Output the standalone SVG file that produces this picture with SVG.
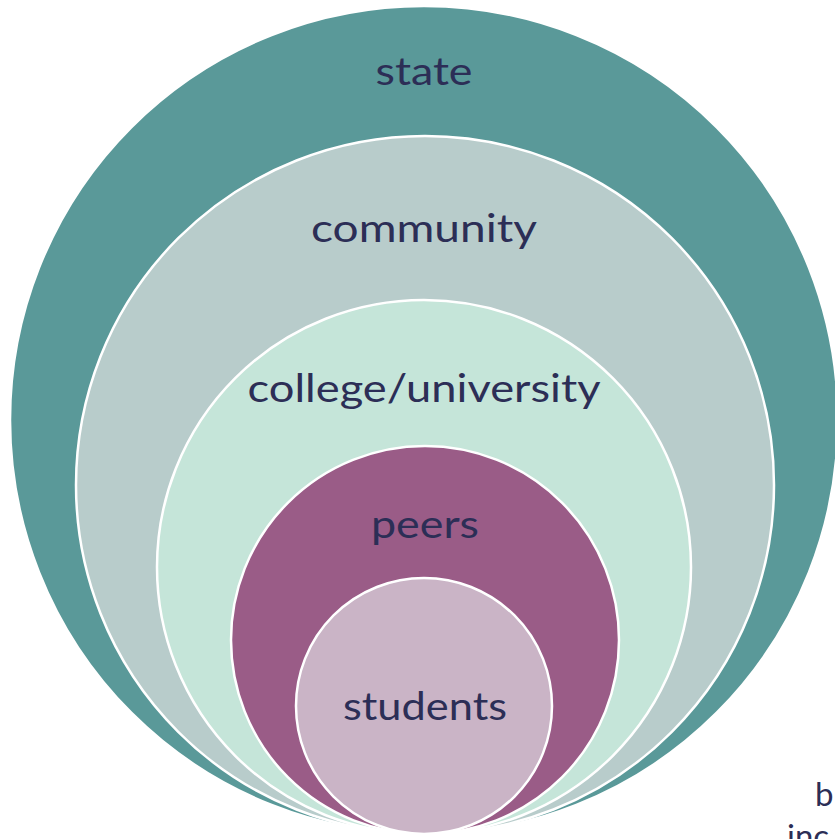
<svg xmlns="http://www.w3.org/2000/svg" width="835" height="839" viewBox="0 0 835 839">
<style>
.ring{stroke:#ffffff;stroke-width:2.5}
.lbl{font-family:"Lato","Open Sans","Liberation Sans",sans-serif;font-size:38px;fill:#2c2e56;text-anchor:middle}
.side{font-family:"Lato","Open Sans","Liberation Sans",sans-serif;font-size:33px;fill:#2c2e56}
</style>
<rect width="835" height="839" fill="#ffffff"/>
<g id="state"><circle class="ring" cx="424" cy="420" r="414" fill="#5a9999"/><text class="lbl" x="424" y="85" textLength="97" lengthAdjust="spacingAndGlyphs">state</text></g>
<g id="community"><circle class="ring" cx="425" cy="485" r="349" fill="#b8cccb"/><text class="lbl" x="424" y="242" textLength="226" lengthAdjust="spacingAndGlyphs">community</text></g>
<g id="college"><circle class="ring" cx="424" cy="567" r="267" fill="#c5e5d9"/><text class="lbl" x="424" y="402" textLength="353" lengthAdjust="spacingAndGlyphs">college/university</text></g>
<g id="peers"><circle class="ring" cx="425" cy="640" r="194" fill="#9a5c87"/><text class="lbl" x="425" y="538" textLength="108" lengthAdjust="spacingAndGlyphs">peers</text></g>
<g id="students"><circle class="ring" cx="424" cy="706" r="128" fill="#cab4c6"/><text class="lbl" x="425" y="720" textLength="164" lengthAdjust="spacingAndGlyphs">students</text></g>
<g id="connectors"></g>
<g id="side-text"><text class="side" x="815" y="806">b</text><text class="side" x="787" y="848">inc</text></g>
</svg>
